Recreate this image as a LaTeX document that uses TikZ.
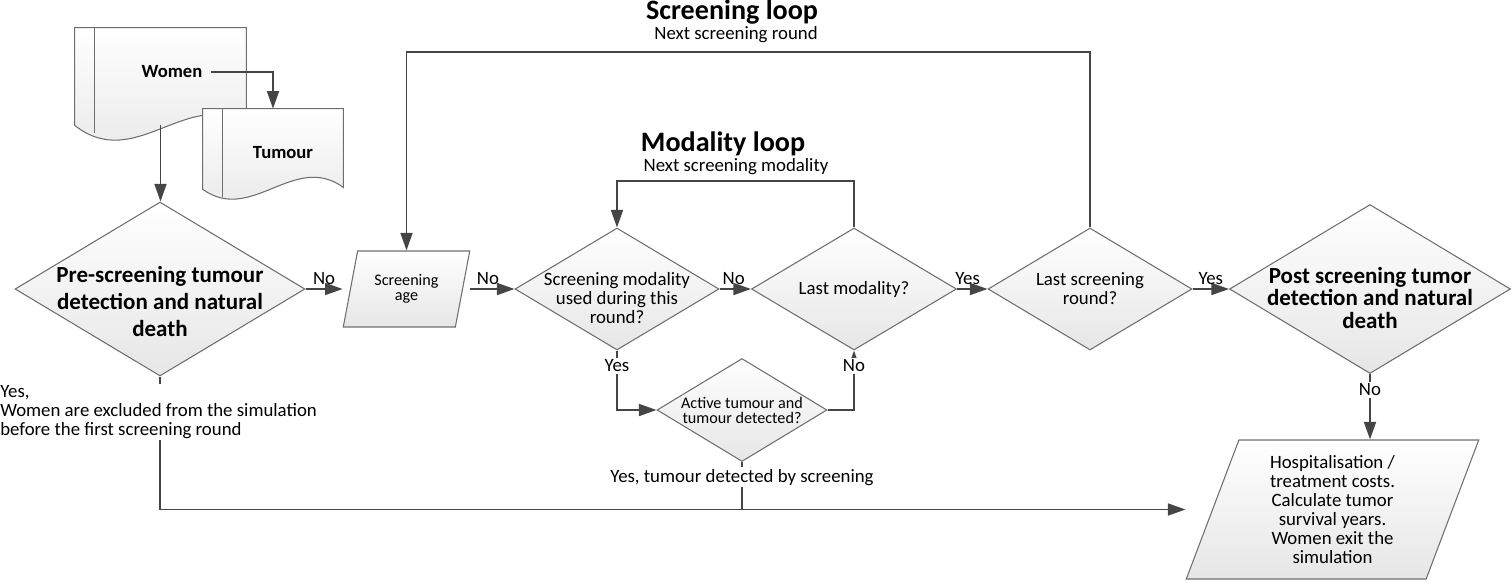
\documentclass[tikz,border=0pt]{standalone}
\usepackage{fontspec}
\setmainfont{Carlito}
\usetikzlibrary{shapes.geometric,arrows.meta,calc}

\definecolor{linegray}{HTML}{454545}
\definecolor{edgegray}{HTML}{6E6E6E}
\definecolor{shadegray}{HTML}{E6E6E6}

\newcommand{\txtTitle}{\fontsize{16}{18}\selectfont\bfseries}
\newcommand{\txtBold}{\fontsize{13.1}{15.2}\selectfont\bfseries}
\newcommand{\txtBoldTight}{\fontsize{13.1}{12.9}\selectfont\bfseries}
\newcommand{\txtPlain}{\fontsize{10.7}{10.8}\selectfont}
\newcommand{\txtSmall}{\fontsize{9.2}{8.6}\selectfont}
\newcommand{\txtDoc}{\fontsize{10.6}{12}\selectfont\bfseries}

% document symbol with wavy bottom and side stripe (#2 = depth of the wave)
\newcommand{\docoutline}[2]{%
  \draw[docshape] (#1.south west) -- (#1.north west) -- (#1.north east) -- ([yshift=0.04cm]#1.south east)
    .. controls ($(#1.south west)!0.65!(#1.south east)+(0,0.75cm)$) and ($(#1.south west)!0.35!(#1.south east)+(0,-#2)$) .. (#1.south west) -- cycle;
  \draw[docedge] ([xshift=0.4cm]#1.north west) -- ([xshift=0.4cm,yshift=-0.15cm]#1.south west);
}

\begin{document}
\begin{tikzpicture}[x=0.02cm, y=-0.02cm,
    flow/.style={draw=linegray, line width=1.05pt, -{Triangle[length=10pt,width=6.8pt]}},
    plain/.style={draw=linegray, line width=1.05pt},
    docedge/.style={draw=edgegray, line width=0.6pt},
    docshape/.style={docedge, top color=white, bottom color=shadegray},
    docbody/.style={rectangle, inner sep=0pt},
    doclabel/.style={font=\txtDoc, inner sep=1pt},
    decision/.style={diamond, draw=edgegray, line width=0.6pt, top color=white, bottom color=shadegray, inner sep=0pt},
    ioshape/.style={trapezium, trapezium left angle=72, trapezium right angle=108, trapezium stretches=true,
      draw=edgegray, line width=0.6pt, top color=white, bottom color=shadegray, align=center, inner sep=0pt},
    answer/.style={font=\txtPlain, inner sep=1pt},
    looptitle/.style={font=\txtTitle, inner sep=0pt},
    loopnote/.style={font=\txtPlain, inner sep=0pt}]
  \useasboundingbox (0,0) rectangle (1512,582);

  % Input documents
  \node[docbody, minimum width=3.42cm, minimum height=1.94cm] (women) at (160.5,76.5) {};
  \docoutline{women}{0.95cm}
  \node[docbody, minimum width=2.8cm, minimum height=1.6cm] (tumour) at (273,149) {};
  \docoutline{tumour}{0.7cm}
  \node[doclabel] (womenlbl) at (172,72) {Women};
  \node[doclabel] (tumourlbl) at (283,153) {Tumour};

  % Decisions
  \node[decision, minimum width=5.8cm, minimum height=3.48cm,
    label={[name=prelbl, yshift=-7pt, font=\txtBold, align=center]center:{Pre-screening tumour\\detection and natural\\death}}] (pre) at (160,289) {};
  \node[ioshape, minimum width=2.54cm, minimum height=1.52cm, font=\txtSmall] (age) at (406.5,289) {Screening\\age};
  \node[decision, minimum width=4.08cm, minimum height=2.44cm,
    label={[name=scrlbl, yshift=-5pt, font=\txtPlain, align=center]center:{Screening modality\\used during this\\round?}}] (scr) at (617,289) {};
  \node[decision, minimum width=4.1cm, minimum height=2.44cm,
    label={[name=lastmodlbl, font=\txtPlain]center:{Last modality?}}] (lastmod) at (854,289) {};
  \node[decision, minimum width=3.4cm, minimum height=2.06cm,
    label={[name=activelbl, font=\txtSmall, align=center]center:{Active tumour and\\tumour detected?}}] (active) at (742,410) {};
  \node[decision, minimum width=4.08cm, minimum height=2.44cm,
    label={[name=lastrndlbl, font=\txtPlain, align=center]center:{Last screening\\round?}}] (lastrnd) at (1090,289) {};
  \node[decision, minimum width=5.62cm, minimum height=3.38cm,
    label={[name=postlbl, yshift=-5pt, font=\txtBoldTight, align=center]center:{Post screening tumor\\detection and natural\\death}}] (post) at (1370,289) {};
  \node[ioshape, minimum width=5.86cm, minimum height=2.78cm, font=\txtPlain] (exit) at (1332.5,509.5)
    {Hospitalisation /\\treatment costs.\\Calculate tumor\\survival years.\\Women exit the\\simulation};

  % Loop titles
  \node[looptitle] (scrtitle) at (732,12) {Screening loop};
  \node[loopnote] (scrnote) at (736,35) {Next screening round};
  \node[looptitle] (modtitle) at (723,144) {Modality loop};
  \node[loopnote] (modnote) at (736,167) {Next screening modality};
  \coordinate (looptop) at (736,52);
  \coordinate (modtop) at (736,181);

  % Main flow
  \draw[flow] ([xshift=4pt]womenlbl.east) -| (tumour.north);
  \draw[flow] (women.south) -- (women.south |- pre.north);
  \draw[flow] (pre.east) -- (age.bottom left corner |- age.center)
    node[answer, midway, above=1pt] (no1) {No};
  \draw[flow] (age.top right corner |- age.center) -- (scr.west)
    node[answer, pos=0.4, above=1pt] (no2) {No};
  \draw[flow] (scr.east) -- (lastmod.west)
    node[answer, pos=0.45, above=1pt] (no3) {No};
  \draw[flow] (lastmod.east) -- (lastrnd.west)
    node[answer, pos=0.35, above=1pt] (yes1) {Yes};
  \draw[flow] (lastrnd.east) -- (post.west)
    node[answer, midway, above=1pt] (yes2) {Yes};
  \draw[flow] (post.south) -- (post.south |- exit.north)
    node[answer, fill=white, pos=0.24] (no4) {No};

  % Modality loop
  \draw[flow] (lastmod.north) |- (modtop) -| (scr.north);
  \draw[flow] (scr.south) |- (active.west)
    node[answer, fill=white, pos=0.13] (yes3) {Yes};
  \draw[flow] (active.east) -| (lastmod.south)
    node[answer, fill=white, pos=0.87] (no5) {No};

  % Screening loop
  \draw[flow] (lastrnd.north) |- (looptop) -| (age.center |- age.north);

  % Exit paths
  \draw[flow] (pre.south) |- (exit.bottom left corner |- exit.center);
  \draw[plain] (active.south) -- (active.south |- exit.center)
    node[answer, fill=white, pos=0.32] (detlbl) {Yes, tumour detected by screening};
  \node[answer, fill=white, anchor=west, align=left, inner xsep=0pt] (exclbl) at (0,412)
    {Yes,\\Women are excluded from the simulation\\before the first screening round};
\end{tikzpicture}
\end{document}
